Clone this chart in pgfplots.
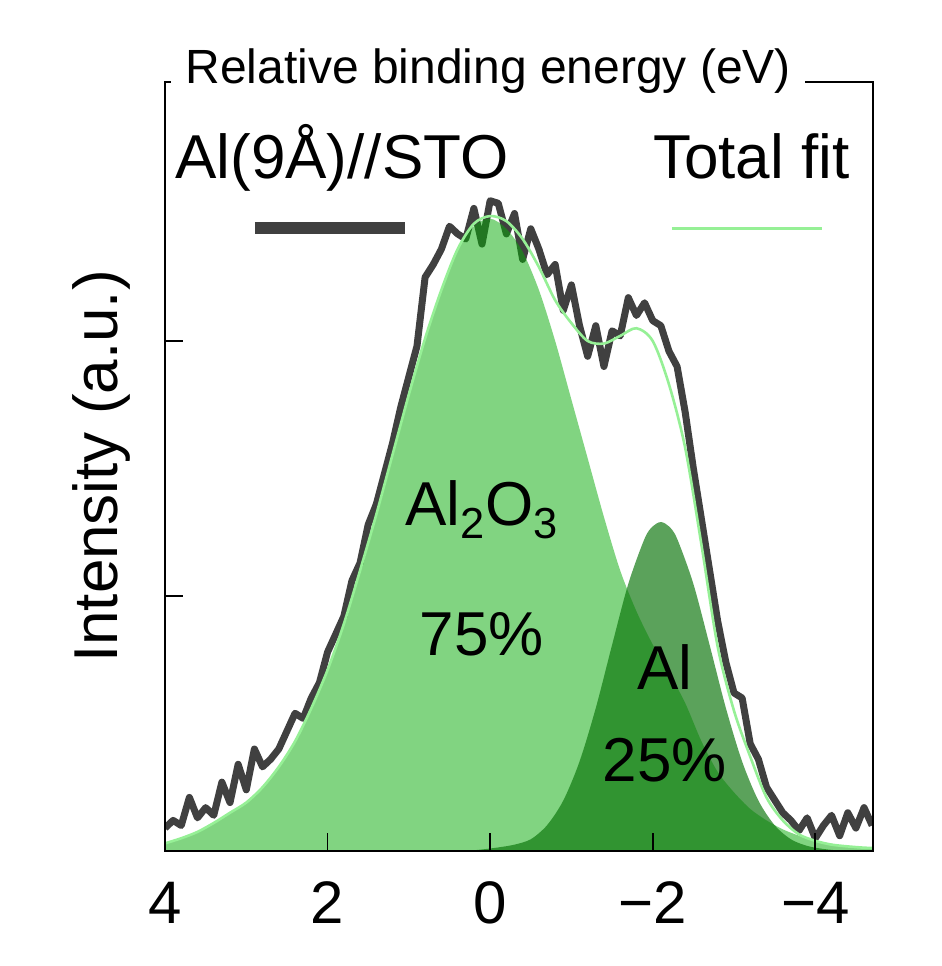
\documentclass[border=0pt]{standalone}
\usepackage{fontspec}
\setmainfont{Liberation Sans}
\usepackage{pgfplots}
\pgfplotsset{compat=1.18}
\definecolor{datagray}{RGB}{64,64,64}
\definecolor{oxgreen}{RGB}{7,171,7}
\definecolor{algreen}{RGB}{11,117,11}
\definecolor{fitgreen}{RGB}{150,240,150}
\newcommand\bigf{\fontsize{31}{37}\selectfont}
\begin{document}
\begin{tikzpicture}
\path[use as bounding box] (-82.5pt,-57.5pt) rectangle (388.5pt,425.5pt);
\begin{axis}[name=ax, at={(0,0)}, anchor=south west, scale only axis,
  width=354pt, height=384.5pt,
  x dir=reverse, xmin=-4.71, xmax=4.0, ymin=0, ymax=3.0157,
  xtick={-4,-2,0,2,4}, xticklabels={−4,−2,0,2,4},
  ytick={1,2}, yticklabels={},
  tick align=inside, xtick pos=left, ytick pos=left,
  major tick length=9pt,
  axis line style={line width=0.9pt},
  tick style={line width=0.9pt, black},
  xticklabel style={font=\fontsize{30}{36}\selectfont, yshift=-12pt},
  axis on top, clip=true]
% measured spectrum
\addplot[datagray, line width=3.5pt, line join=round] coordinates {
(4.0,0.09)(3.9,0.12)(3.8,0.10)(3.7,0.21)(3.6,0.13)(3.5,0.17)(3.4,0.14)(3.3,0.27)
(3.2,0.19)(3.1,0.34)(3.0,0.24)(2.9,0.40)(2.8,0.33)(2.7,0.36)(2.6,0.40)(2.5,0.47)
(2.4,0.54)(2.3,0.52)(2.2,0.60)(2.1,0.66)(2.0,0.78)(1.9,0.85)(1.8,0.92)(1.7,1.06)
(1.6,1.13)(1.5,1.28)(1.4,1.36)(1.3,1.48)(1.2,1.60)(1.1,1.74)(1.0,1.86)(0.9,1.98)
(0.8,2.25)(0.7,2.30)(0.6,2.36)(0.5,2.45)(0.4,2.42)(0.3,2.40)(0.2,2.52)(0.1,2.38)
(0.0,2.55)(-0.1,2.54)(-0.2,2.42)(-0.3,2.50)(-0.4,2.32)(-0.5,2.44)(-0.6,2.36)(-0.7,2.26)
(-0.8,2.30)(-0.9,2.12)(-1.0,2.22)(-1.1,2.06)(-1.2,1.94)(-1.3,2.06)(-1.4,1.90)(-1.5,2.04)
(-1.6,2.02)(-1.7,2.17)(-1.8,2.10)(-1.9,2.15)(-2.0,2.08)(-2.1,2.06)(-2.2,1.96)(-2.3,1.90)
(-2.4,1.72)(-2.5,1.50)(-2.6,1.30)(-2.7,1.10)(-2.8,0.90)(-2.9,0.74)(-3.0,0.62)(-3.1,0.60)
(-3.2,0.42)(-3.3,0.36)(-3.4,0.25)(-3.5,0.20)(-3.6,0.15)(-3.7,0.12)(-3.8,0.08)(-3.9,0.13)
(-4.0,0.05)(-4.1,0.10)(-4.2,0.14)(-4.3,0.06)(-4.4,0.15)(-4.5,0.09)(-4.6,0.17)(-4.7,0.10)};
% Al2O3 component
\addplot[draw=none, fill=oxgreen, fill opacity=0.51, smooth] coordinates {
(4.0,0.03)(3.8,0.05)(3.6,0.075)(3.4,0.11)(3.2,0.15)(3.0,0.19)(2.8,0.25)(2.6,0.33)
(2.4,0.43)(2.2,0.56)(2.0,0.71)(1.8,0.89)(1.6,1.10)(1.4,1.32)(1.2,1.555)(1.0,1.79)
(0.8,2.01)(0.6,2.20)(0.4,2.355)(0.2,2.45)(0.0,2.48)(-0.2,2.44)(-0.4,2.35)(-0.6,2.20)
(-0.8,2.00)(-1.0,1.77)(-1.2,1.54)(-1.4,1.31)(-1.6,1.10)(-1.8,0.94)(-2.0,0.81)(-2.2,0.70)
(-2.4,0.58)(-2.6,0.43)(-2.8,0.31)(-3.0,0.23)(-3.2,0.165)(-3.4,0.12)(-3.6,0.085)(-3.8,0.06)
(-4.0,0.04)(-4.2,0.028)(-4.4,0.018)(-4.6,0.012)(-4.71,0.01)} \closedcycle;
% Al component
\addplot[draw=none, fill=algreen, fill opacity=0.67, smooth] coordinates {
(0.3,0.0)(0.1,0.006)(-0.1,0.014)(-0.3,0.025)(-0.5,0.046)(-0.7,0.101)(-0.9,0.198)
(-1.1,0.351)(-1.3,0.561)(-1.5,0.808)(-1.7,1.048)(-1.9,1.225)(-2.0,1.273)(-2.1,1.29)
(-2.2,1.273)(-2.3,1.225)(-2.5,1.048)(-2.7,0.808)(-2.9,0.561)(-3.1,0.351)(-3.3,0.198)
(-3.5,0.101)(-3.7,0.046)(-3.9,0.02)(-4.1,0.008)(-4.3,0.002)(-4.5,0.0)} \closedcycle;
% total fit
\addplot[fitgreen, line width=1.3pt, smooth] coordinates {
(4.0,0.03)(3.8,0.05)(3.6,0.075)(3.4,0.11)(3.2,0.15)(3.0,0.19)(2.8,0.25)(2.6,0.33)
(2.4,0.43)(2.2,0.56)(2.0,0.71)(1.8,0.89)(1.6,1.10)(1.4,1.32)(1.2,1.555)(1.0,1.79)
(0.8,2.01)(0.6,2.20)(0.4,2.36)(0.2,2.46)(0.0,2.49)(-0.2,2.47)(-0.4,2.40)(-0.6,2.29)
(-0.8,2.16)(-1.0,2.07)(-1.2,2.00)(-1.4,1.99)(-1.6,2.02)(-1.8,2.05)(-2.0,2.00)(-2.2,1.83)
(-2.4,1.58)(-2.6,1.20)(-2.8,0.80)(-3.0,0.55)(-3.2,0.37)(-3.4,0.21)(-3.6,0.12)(-3.8,0.065)
(-4.0,0.04)(-4.2,0.025)(-4.4,0.018)(-4.6,0.013)(-4.71,0.012)};
% annotations
\node[anchor=base west, font=\bigf, inner sep=0pt] at (axis cs:1.046,1.278) {Al\textsubscript{2}O\textsubscript{3}};
\node[anchor=base, font=\bigf, inner sep=0pt] at (axis cs:0.10,0.765) {75\%};
\node[anchor=base, font=\bigf, inner sep=0pt] at (axis cs:-2.15,0.635) {Al};
\node[anchor=base, font=\bigf, inner sep=0pt] at (axis cs:-2.15,0.272) {25\%};
% legend
\node[anchor=base west, font=\bigf, inner sep=0pt] at (axis description cs:0.014,0.875) {Al(9Å)//STO};
\draw[datagray, line width=6pt] (axis description cs:0.127,0.810) -- (axis description cs:0.339,0.810);
\node[anchor=base east, font=\bigf, inner sep=0pt] at (axis description cs:0.9675,0.875) {Total fit};
\draw[fitgreen, line width=1.5pt] (axis description cs:0.716,0.810) -- (axis description cs:0.928,0.810);
\end{axis}
\node[rotate=90, anchor=base, font=\bigf, inner sep=0pt] at ([xshift=-23.5pt]ax.west) {Intensity (a.u.)};
\node[anchor=base west, fill=white, inner xsep=7pt, inner ysep=2pt, font=\fontsize{24}{29}\selectfont]
  at ([xshift=3pt, yshift=-1pt]ax.north west) {Relative binding energy (eV)};
\end{tikzpicture}
\end{document}
